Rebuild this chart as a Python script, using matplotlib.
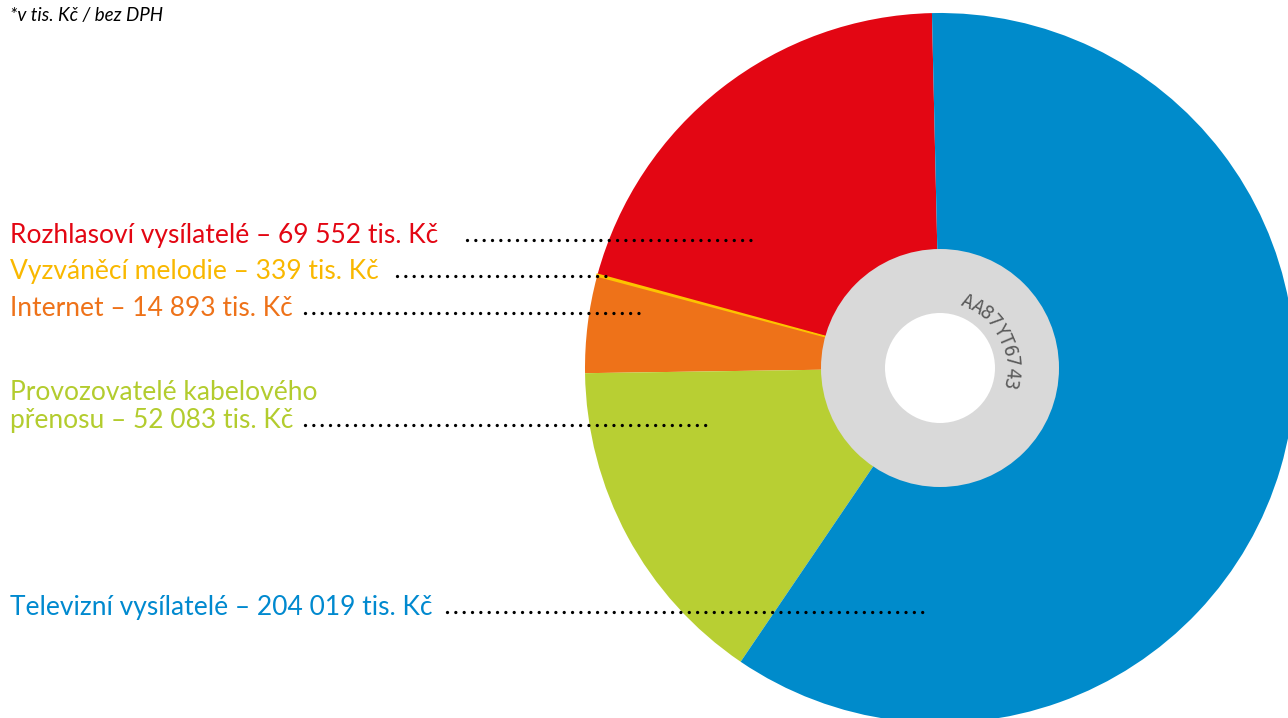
"""Rozdělení výnosů podle typu uživatele - CD chart."""

import matplotlib.pyplot as plt
import numpy as np
from matplotlib.patches import Circle

# Data
names = ['Rozhlasoví vysílatelé', 'Vyzváněcí melodie', 'Internet',
         'Provozovatelé kabelového\npřenosu', 'Televizní vysílatelé']
values = [69552, 339, 14893, 52083, 204019]
colors = ['#e30613', '#fdc300', '#ee7219', '#b8cf33', '#008bcb']
text_colors = ['#e30613', '#f9b800', '#ee7219', '#b3cc2e', '#0089cf']
serial = 'AA87YT6743'

# Layout in pixels (y from top)
W, H = 1288, 718
cx, cy = 940, 368
R = 355
label_y = [243, 279, 316, 428, 615]
dots_x0 = [467, 397, 305, 305, 447]
dots_x1 = [757, 613, 640, 710, 930]


def fmt(v):
    return f'{v:,}'.replace(',', ' ')


fig = plt.figure(figsize=(W / 100, H / 100), dpi=100)
ax = fig.add_axes([0, 0, 1, 1])

wedges, _ = ax.pie(values, colors=colors, startangle=91.3, counterclock=True,
                   radius=R, center=(cx, H - cy), wedgeprops=dict(linewidth=0))
# the tiny slice is drawn a bit thicker, as in the original
wedges[1].set_edgecolor(colors[1])
wedges[1].set_linewidth(1.6)
ax.add_patch(Circle((cx, H - cy), 119, color='#d9d9d9', lw=0))
ax.add_patch(Circle((cx, H - cy), 55, color='white', lw=0))

# serial number printed round the hub
for i, ch in enumerate(serial):
    ang = np.deg2rad(67.5 - i * 8.9)
    ax.text(cx + 71 * np.cos(ang), H - cy + 71 * np.sin(ang), ch,
            rotation=np.rad2deg(ang) - 90, ha='center', va='center',
            rotation_mode='anchor', fontsize=13.5, color='#5a5a5a',
            family='DejaVu Sans Mono')

# labels with dotted leaders
for name, v, c, y, x0, x1 in zip(names, values, text_colors, label_y, dots_x0, dots_x1):
    ax.text(10, H - y, f'{name} – {fmt(v)} tis. Kč', color=c, fontsize=19,
            family='Lato', va='baseline', ha='left', linespacing=1.14)
    ax.plot([x0, x1], [H - y + 3, H - y + 3], color='black', lw=2.4,
            dashes=(0.001, 2.5), dash_capstyle='round')

ax.text(10, H - 21, '*v tis. Kč / bez DPH', fontsize=13.5, style='italic',
        family='Lato', va='baseline', ha='left', color='black')

ax.set_xlim(0, W)
ax.set_ylim(0, H)
ax.set_aspect('equal')
ax.axis('off')
fig.savefig('out.png', dpi=100)
